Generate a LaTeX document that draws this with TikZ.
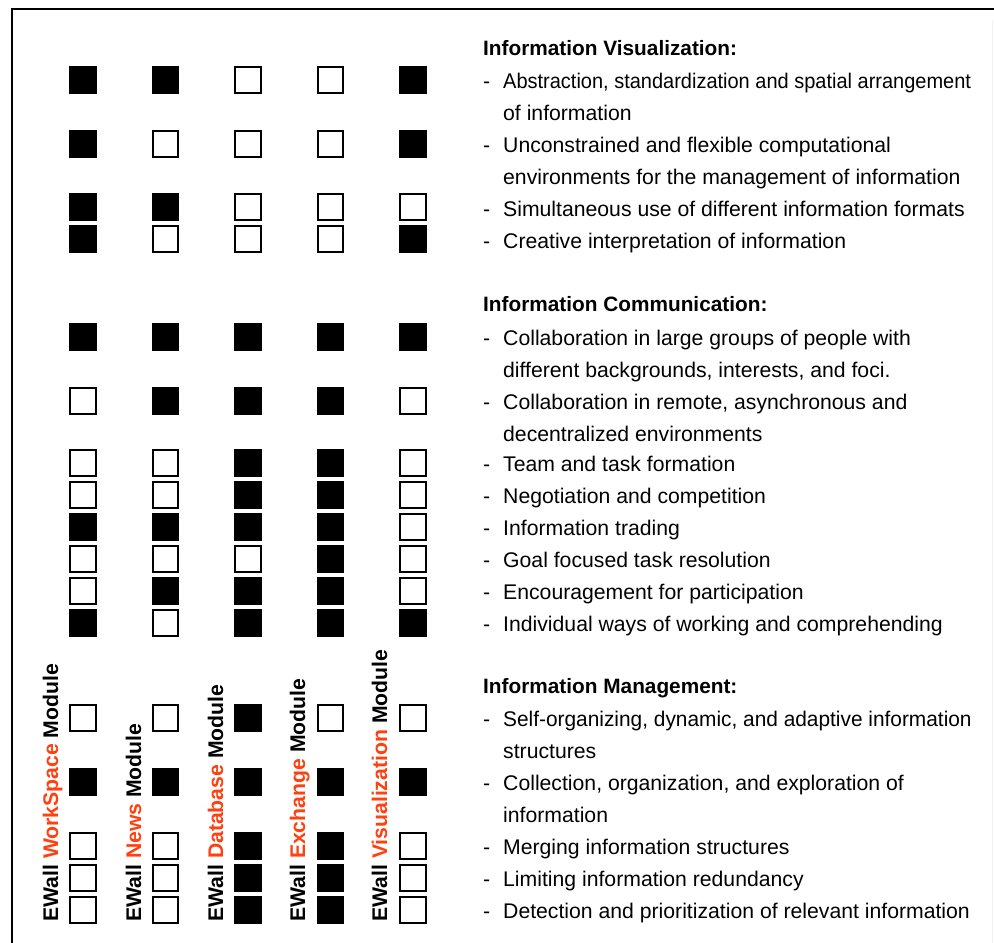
\documentclass[tikz,border=0pt]{standalone}
\usepackage{fontspec}
\setmainfont{Liberation Sans}
\definecolor{ewred}{RGB}{255,64,16}
\begin{document}
\begin{tikzpicture}[x=1pt,y=-1pt,
  sq0/.style={draw=black,fill=white,line width=1.7pt,minimum size=25.5pt,inner sep=0pt,outer sep=0pt},
  sq1/.style={draw=black,fill=black,line width=1.7pt,minimum size=25.5pt,inner sep=0pt,outer sep=0pt},
  txt/.style={anchor=base west,inner sep=0pt,font=\fontsize{21.2}{24}\selectfont},
  head/.style={anchor=base west,inner sep=0pt,font=\fontsize{20.8}{24}\selectfont\bfseries},
  lbl/.style={anchor=base west,inner sep=0pt,rotate=90,font=\fontsize{21.2}{24}\selectfont\bfseries},
  frame/.style={line width=1.6pt}]
\useasboundingbox (0,0) rectangle (994,943);
% frame
\coordinate (fbl) at (12,943);
\coordinate (ftl) at (12,9);
\coordinate (ftr) at (994,9);
\draw[frame] (fbl) -- (ftl) -- (ftr);
\coordinate (frt) at (992,20);
\coordinate (frb) at (992,943);
\draw[gray!12,line width=0.8pt] (frt) -- (frb);
% squares
\foreach \y/\pat [count=\r] in {
  80/{1,1,0,0,1}, 144/{1,0,0,0,1}, 207/{1,1,0,0,0}, 239/{1,0,0,0,1},
  337/{1,1,1,1,1}, 401/{0,1,1,1,0}, 463/{0,0,1,1,0}, 495/{0,0,1,1,0},
  527/{1,1,1,1,0}, 559/{0,0,0,1,0}, 591/{0,1,1,1,0}, 623/{1,0,1,1,1},
  718/{0,0,1,0,0}, 782/{1,1,1,1,1}, 846/{0,0,1,1,0}, 878/{0,0,1,1,0}, 910/{0,0,1,1,0}}{
  \foreach \v [count=\c] in \pat {
    \node[sq\v] (s-\r-\c) at ({83+(\c-1)*82.5},\y) {};
  }
}
% module labels
\node[lbl] (m1) at (58,922) {EWall \textcolor{ewred}{WorkSpace} Module};
\node[lbl] (m2) at (141,922) {EWall \textcolor{ewred}{News} Module};
\node[lbl] (m3) at (223,922) {EWall \textcolor{ewred}{Database} Module};
\node[lbl] (m4) at (305,922) {EWall \textcolor{ewred}{Exchange} Module};
\node[lbl] (m5) at (387,922) {EWall \textcolor{ewred}{Visualization} Module};
% headings
\node[head] (h1) at (483,55) {Information Visualization:};
\node[head] (h2) at (483,311) {Information Communication:};
\node[head] (h3) at (483,693) {Information Management:};
% dashes
\foreach \b [count=\i] in {88,152,216,248,345,409,471,503,535,567,599,631,726,790,854,886,918}{
  \node[txt] (d\i) at (483,\b) {-};
}
% items
\node[txt] (t1) at (503,88) {\scalebox{0.943}[1]{Abstraction, standardization and spatial arrangement}};
\node[txt] (t1b) at (503,120) {of information};
\node[txt] (t2) at (503,152) {Unconstrained and flexible computational};
\node[txt] (t2b) at (503,184) {environments for the management of information};
\node[txt] (t3) at (503,216) {Simultaneous use of different information formats};
\node[txt] (t4) at (503,248) {Creative interpretation of information};
\node[txt] (t5) at (503,345) {Collaboration in large groups of people with};
\node[txt] (t5b) at (503,377) {different backgrounds, interests, and foci.};
\node[txt] (t6) at (503,409) {Collaboration in remote, asynchronous and};
\node[txt] (t6b) at (503,441) {decentralized environments};
\node[txt] (t7) at (503,471) {Team and task formation};
\node[txt] (t8) at (503,503) {Negotiation and competition};
\node[txt] (t9) at (503,535) {Information trading};
\node[txt] (t10) at (503,567) {Goal focused task resolution};
\node[txt] (t11) at (503,599) {Encouragement for participation};
\node[txt] (t12) at (503,631) {Individual ways of working and comprehending};
\node[txt] (t13) at (503,726) {\scalebox{0.984}[1]{Self-organizing, dynamic, and adaptive information}};
\node[txt] (t13b) at (503,758) {structures};
\node[txt] (t14) at (503,790) {Collection, organization, and exploration of};
\node[txt] (t14b) at (503,822) {information};
\node[txt] (t15) at (503,854) {Merging information structures};
\node[txt] (t16) at (503,886) {Limiting information redundancy};
\node[txt] (t17) at (503,918) {Detection and prioritization of relevant information};
\end{tikzpicture}
\end{document}
